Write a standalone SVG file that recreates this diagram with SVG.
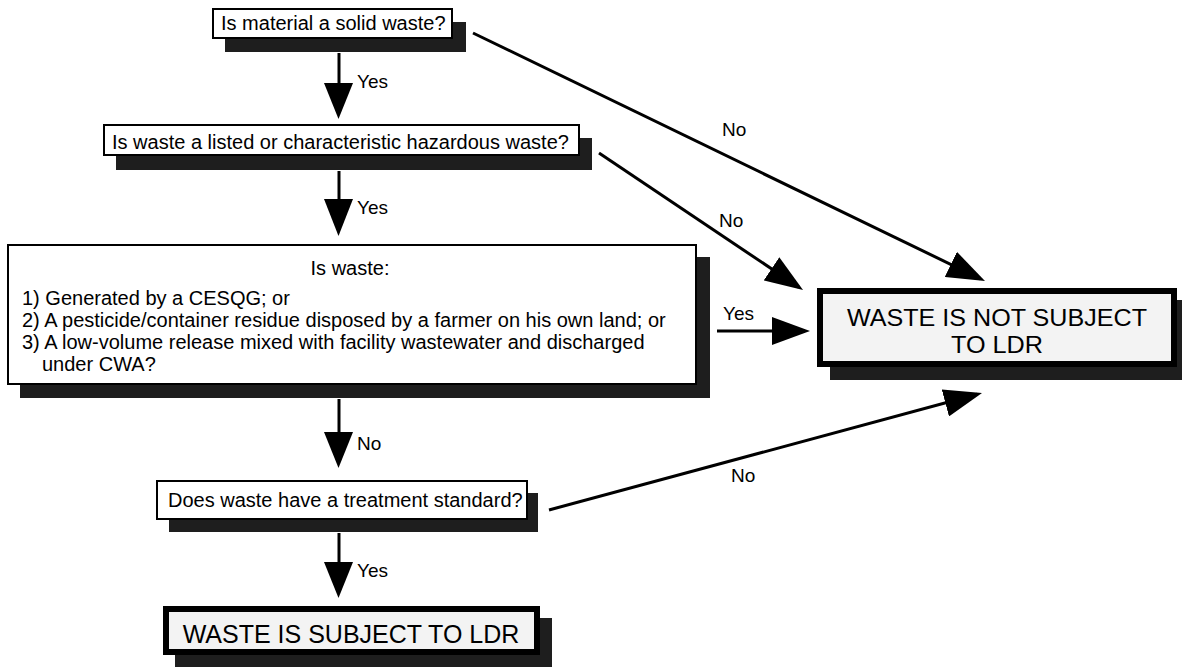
<svg xmlns="http://www.w3.org/2000/svg" width="1182" height="667" viewBox="0 0 1182 667">
  <style>
    .box { fill: #ffffff; stroke: #000; stroke-width: 2; }
    .tbox { fill: #f3f3f3; stroke: #000; stroke-width: 6; }
    .shadow { fill: #1e1e1e; }
    .t { font-family: "Liberation Sans", Arial, sans-serif; font-size: 20px; fill: #000; }
    .big { font-family: "Liberation Sans", Arial, sans-serif; font-size: 25px; fill: #000; }
    .big2 { font-family: "Liberation Sans", Arial, sans-serif; font-size: 24px; fill: #000; }
    .lbl { font-family: "Liberation Sans", Arial, sans-serif; font-size: 19px; fill: #000; }
    .conn { stroke: #000; stroke-width: 3; fill: none; }
    .head { fill: #000; }
  </style>
  <defs>
    <marker id="ah" markerUnits="userSpaceOnUse" markerWidth="38" markerHeight="28" refX="33" refY="14" orient="auto" viewBox="0 0 38 28">
      <path d="M0,0 L38,14 L0,28 Z" fill="#000"/>
    </marker>
  </defs>
  <rect width="1182" height="667" fill="#ffffff"/>

  <g id="n1">
    <rect class="shadow" x="225" y="22" width="241" height="30"/>
    <rect class="box" x="213" y="9" width="239" height="29"/>
    <text class="t" x="221" y="30">Is material a solid waste?</text>
  </g>

  <g id="n2">
    <rect class="shadow" x="116" y="138" width="476" height="32"/>
    <rect class="box" x="104" y="125" width="475" height="30"/>
    <text class="t" x="112" y="149">Is waste a listed or characteristic hazardous waste?</text>
  </g>

  <g id="n3">
    <rect class="shadow" x="20" y="257" width="690" height="141"/>
    <rect class="box" x="8" y="245" width="688" height="139"/>
    <text class="t" x="350" y="275" text-anchor="middle">Is waste:</text>
    <text class="t" x="22" y="305">1) Generated by a CESQG; or</text>
    <text class="t" x="22" y="327">2) A pesticide/container residue disposed by a farmer on his own land; or</text>
    <text class="t" x="22" y="349">3) A low-volume release mixed with facility wastewater and discharged</text>
    <text class="t" x="42" y="371">under CWA?</text>
  </g>

  <g id="n4">
    <rect class="shadow" x="169" y="493" width="369" height="39"/>
    <rect class="box" x="157" y="481" width="370" height="38"/>
    <text class="t" x="168" y="507">Does waste have a treatment standard?</text>
  </g>

  <g id="n5">
    <rect class="shadow" x="175" y="618" width="377" height="49"/>
    <rect class="tbox" x="166" y="609" width="371" height="43"/>
    <text class="big" x="351" y="643" text-anchor="middle">WASTE IS SUBJECT TO LDR</text>
  </g>

  <g id="n6">
    <rect class="shadow" x="830" y="300" width="352" height="80"/>
    <rect class="tbox" x="820" y="291" width="354" height="73"/>
    <text class="big2" x="997" y="326" text-anchor="middle" textLength="300" lengthAdjust="spacingAndGlyphs">WASTE IS NOT SUBJECT</text>
    <text class="big2" x="997" y="353" text-anchor="middle" textLength="92" lengthAdjust="spacingAndGlyphs">TO LDR</text>
  </g>

  <g id="connectors">
    <line class="conn" x1="339" y1="53" x2="339" y2="90"/>
    <polygon class="head" points="324,83 353,83 338.5,119"/>
    <text class="lbl" x="357" y="88">Yes</text>

    <line class="conn" x1="339" y1="171" x2="339" y2="205"/>
    <polygon class="head" points="324,199 353,199 338.5,236"/>
    <text class="lbl" x="357" y="214">Yes</text>

    <line class="conn" x1="339" y1="399" x2="339" y2="438"/>
    <polygon class="head" points="324,432 353,432 338.5,468"/>
    <text class="lbl" x="357" y="450">No</text>

    <line class="conn" x1="339" y1="533" x2="339" y2="568"/>
    <polygon class="head" points="324,562 353,562 338.5,598"/>
    <text class="lbl" x="357" y="577">Yes</text>

    <line class="conn" x1="473" y1="33" x2="980.5" y2="278.8" marker-end="url(#ah)"/>
    <text class="lbl" x="722" y="136">No</text>

    <line class="conn" x1="599" y1="153" x2="798.9" y2="287.2" marker-end="url(#ah)"/>
    <text class="lbl" x="719" y="227">No</text>

    <line class="conn" x1="717" y1="331" x2="805" y2="331" marker-end="url(#ah)"/>
    <text class="lbl" x="723" y="320">Yes</text>

    <line class="conn" x1="549" y1="510" x2="977.2" y2="394.3" marker-end="url(#ah)"/>
    <text class="lbl" x="731" y="482">No</text>
  </g>
</svg>
